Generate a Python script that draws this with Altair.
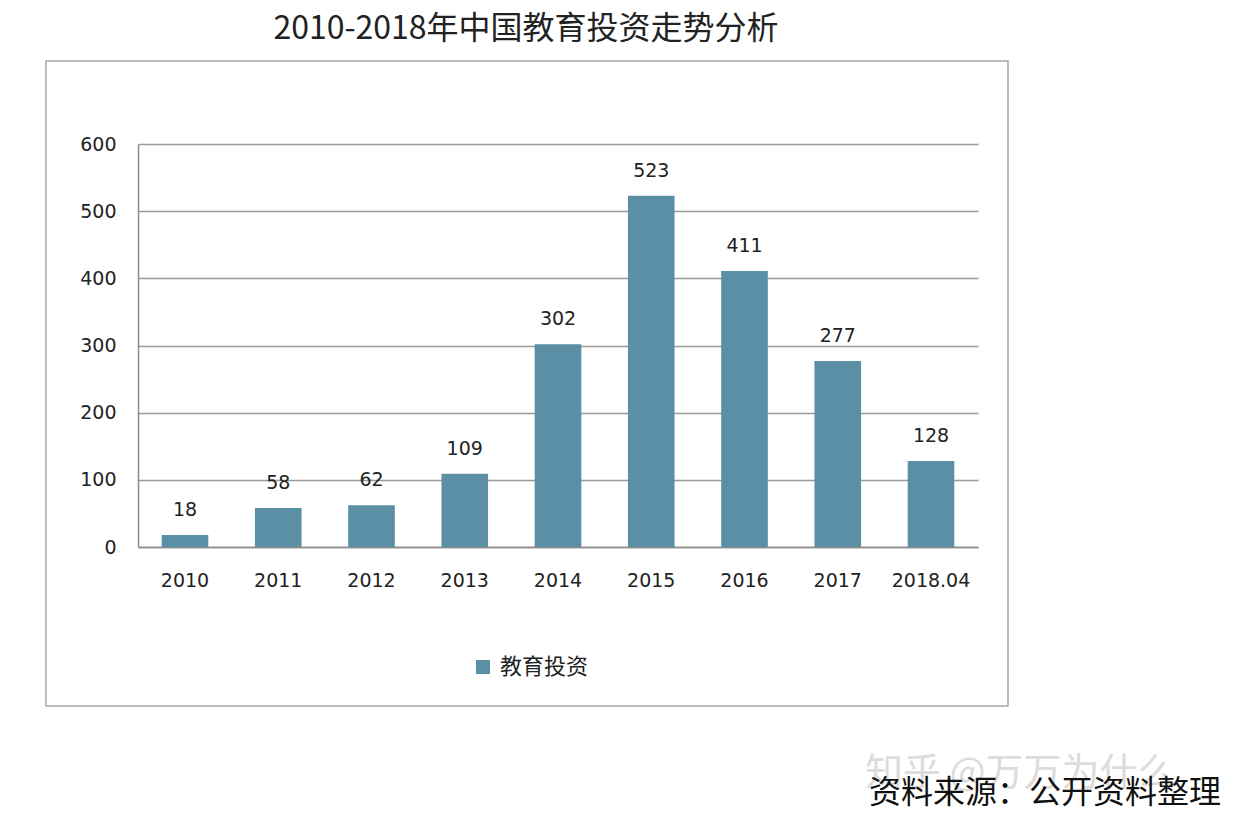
import altair as alt
import pandas as pd

categories = ["2010", "2011", "2012", "2013", "2014", "2015", "2016", "2017", "2018.04"]
values = [18, 58, 62, 109, 302, 523, 411, 277, 128]
series_name = "教育投资"
title_text = "2010-2018年中国教育投资走势分析"
source_text = "资料来源：公开资料整理"
watermark_text = "知乎 @万万为什么"
y_ticks = [0, 100, 200, 300, 400, 500, 600]

df = pd.DataFrame({"year": categories, "value": values, "series": [series_name] * len(categories)})

BAR = "#5b8fa6"
CJK = "Noto Sans CJK SC"
NUM = "DejaVu Sans"

x_enc = alt.X("year:N", sort=categories,
              scale=alt.Scale(paddingInner=0.5, paddingOuter=0.254),
              axis=alt.Axis(title=None, labelAngle=0, ticks=False, tickSize=0, labelPadding=24,
                            labelFont=NUM, labelFontSize=19, labelColor="#222",
                            domainColor="#8c8c8c", domainWidth=1.5, grid=False))
y_enc = alt.Y("value:Q", scale=alt.Scale(domain=[0, 600], nice=False),
              axis=alt.Axis(title=None, values=y_ticks, ticks=False, tickSize=0, labelPadding=22,
                            labelFont=NUM, labelFontSize=19, labelColor="#222",
                            domainColor="#8c8c8c", domainWidth=1.5,
                            grid=True, gridColor="#999999", gridWidth=1.5))

one = pd.DataFrame({"t": [""]})

frame = alt.Chart(one).mark_rect(fillOpacity=0, stroke="#a6a6a6", strokeWidth=1.5).encode(
    x=alt.value(-92), x2=alt.value(870), y=alt.value(-83), y2=alt.value(562))

bars = alt.Chart(df).mark_bar().encode(
    x=x_enc, y=y_enc,
    color=alt.Color("series:N", scale=alt.Scale(domain=[series_name], range=[BAR]),
                    legend=alt.Legend(title=None, orient="none", legendX=334, legendY=512,
                                      symbolType="square", symbolSize=196, symbolStrokeWidth=0,
                                      labelFont=CJK, labelFontSize=22, labelColor="#222",
                                      labelOffset=6, padding=0)))

labels = alt.Chart(df).mark_text(font=NUM, fontSize=19, color="#222", baseline="middle", dy=-25).encode(
    x=alt.X("year:N", sort=categories), y=alt.Y("value:Q"), text=alt.Text("value:Q"))

title = alt.Chart(pd.DataFrame({"t": [title_text]})).mark_text(
    font=CJK, fontSize=32, color="#222", align="center", baseline="middle").encode(
    x=alt.value(388), y=alt.value(-115), text="t:N")

watermark = alt.Chart(pd.DataFrame({"t": [watermark_text]})).mark_text(
    font=CJK, fontSize=38, color="#dcdcdc", align="left", baseline="middle").encode(
    x=alt.value(727), y=alt.value(630), text="t:N")

source = alt.Chart(pd.DataFrame({"t": [source_text]})).mark_text(
    font=CJK, fontSize=32, color="#111", align="left", baseline="middle").encode(
    x=alt.value(731), y=alt.value(649), text="t:N")

chart = alt.layer(frame, bars, labels, title, watermark, source).properties(
    width=840, height=403,
    autosize=alt.AutoSizeParams(type="none"),
    padding={"left": 130, "top": 136, "right": 250, "bottom": 270},
    background="white",
).configure_view(stroke=None)

chart.save("out.html", embed_options={"renderer": "svg", "actions": False})
